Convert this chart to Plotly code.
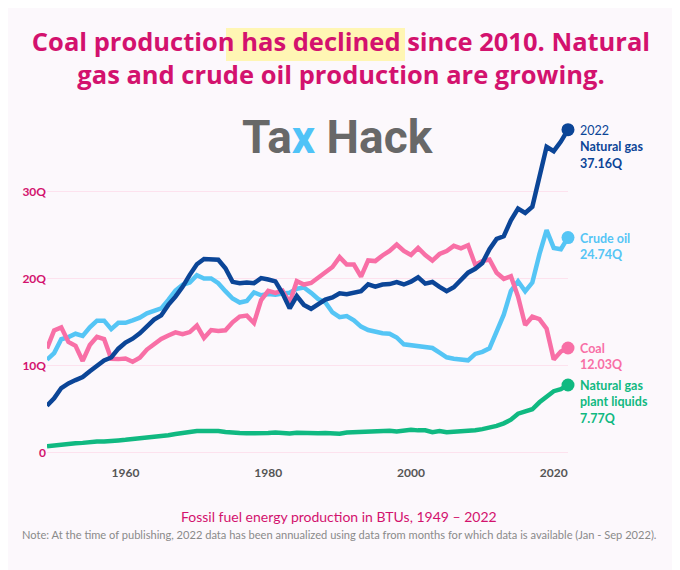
import plotly.graph_objects as go

years = list(range(1949, 2023))

coal = [11.97, 14.06, 14.41, 12.73, 12.28, 10.54, 12.37, 13.31, 13.06, 10.78,
        10.75, 10.82, 10.45, 10.90, 11.85, 12.52, 13.06, 13.47, 13.83, 13.61,
        13.86, 14.61, 13.19, 14.09, 13.99, 14.07, 14.99, 15.65, 15.76, 14.91,
        17.54, 18.60, 18.38, 18.64, 17.25, 19.72, 19.33, 19.51, 20.14, 20.74,
        21.35, 22.49, 21.63, 21.63, 20.25, 22.11, 22.03, 22.68, 23.21, 23.94,
        23.19, 22.74, 23.55, 22.73, 22.09, 22.85, 23.19, 23.79, 23.49, 23.85,
        21.62, 22.04, 22.22, 20.68, 19.99, 20.29, 17.95, 14.67, 15.63, 15.36,
        14.26, 10.70, 11.62, 12.03]

natural_gas = [5.38, 6.23, 7.42, 7.96, 8.34, 8.68, 9.35, 10.00, 10.60, 10.94,
               11.95, 12.66, 13.10, 13.72, 14.51, 15.30, 15.78, 16.99, 17.94, 19.07,
               20.45, 21.67, 22.28, 22.21, 22.19, 21.21, 19.64, 19.48, 19.57, 19.49,
               20.08, 19.91, 19.70, 18.32, 16.59, 18.01, 16.98, 16.54, 17.14, 17.60,
               17.85, 18.33, 18.23, 18.38, 18.58, 19.35, 19.08, 19.34, 19.39, 19.61,
               19.34, 19.66, 20.17, 19.44, 19.63, 19.07, 18.56, 19.02, 19.79, 20.70,
               21.14, 21.81, 23.41, 24.59, 24.89, 26.72, 28.07, 27.58, 28.29, 31.88,
               35.19, 34.68, 35.79, 37.16]

crude_oil = [10.68, 11.45, 13.04, 13.28, 13.67, 13.43, 14.41, 15.18, 15.18, 14.20,
             14.93, 14.93, 15.21, 15.52, 16.02, 16.27, 16.59, 17.56, 18.65, 19.31,
             19.56, 20.40, 20.03, 20.04, 19.49, 18.57, 17.73, 17.26, 17.45, 18.43,
             18.10, 18.25, 18.15, 18.31, 18.39, 18.85, 18.99, 18.38, 17.67, 17.28,
             16.12, 15.57, 15.70, 15.22, 14.49, 14.10, 13.89, 13.72, 13.66, 13.24,
             12.45, 12.36, 12.28, 12.16, 12.03, 11.50, 10.96, 10.80, 10.72, 10.61,
             11.35, 11.59, 11.99, 13.84, 15.86, 18.60, 19.71, 18.55, 19.56, 22.83,
             25.60, 23.55, 23.40, 24.74]

ngpl = [0.71, 0.82, 0.93, 1.00, 1.06, 1.11, 1.24, 1.28, 1.28, 1.28,
        1.39, 1.46, 1.54, 1.59, 1.71, 1.80, 1.88, 2.00, 2.14, 2.27,
        2.38, 2.47, 2.48, 2.51, 2.47, 2.37, 2.27, 2.25, 2.21, 2.19,
        2.20, 2.25, 2.31, 2.19, 2.18, 2.27, 2.24, 2.15, 2.22, 2.26,
        2.16, 2.17, 2.31, 2.36, 2.41, 2.39, 2.44, 2.53, 2.50, 2.42,
        2.53, 2.61, 2.55, 2.56, 2.35, 2.47, 2.33, 2.36, 2.41, 2.42,
        2.57, 2.69, 2.86, 3.06, 3.36, 3.78, 4.47, 4.67, 4.98, 5.78,
        6.49, 7.06, 7.29, 7.77]

series = [
    ("Crude oil", crude_oil, "#55c5f5", "<b>Crude oil<br>24.74Q</b>"),
    ("Coal", coal, "#f86fa6", "<b>Coal<br>12.03Q</b>"),
    ("Natural gas plant liquids", ngpl, "#10b981", "<b>Natural gas<br>plant liquids<br>7.77Q</b>"),
    ("Natural gas", natural_gas, "#0b4597", "2022<br><b>Natural gas<br>37.16Q</b>"),
]

bg = "#fcf8fc"
pink = "#d3126e"

# page has an 8px body margin, so the figure is drawn 8px smaller and offset
OFF = 8
W, H = 680 - OFF, 570 - OFF


# reference pixel -> paper helpers for the decorations outside the plot
def px_x(p):
    return (p - 47) / 521


def px_y(p):
    return (456 - p) / 338


fig = go.Figure()
annotations = []
for name, vals, color, label in series:
    fig.add_trace(go.Scatter(x=years, y=vals, mode="lines", name=name,
                             line=dict(color=color, width=4.5), hoverinfo="skip"))
    fig.add_trace(go.Scatter(x=[years[-1]], y=[vals[-1]], mode="markers",
                             marker=dict(color=color, size=13), cliponaxis=False,
                             hoverinfo="skip"))
    annotations.append(dict(x=years[-1], y=vals[-1], text=label, showarrow=False, align="left",
                            xanchor="left", yanchor="top", xshift=10, yshift=9,
                            font=dict(family="Lato", size=12.5, color=color)))

# logo
annotations.append(dict(xref="paper", yref="paper", x=px_x(338), y=px_y(137), xanchor="center",
                        yanchor="middle", showarrow=False,
                        text="<b>Ta<span style='color:#4fc3f7'>x</span> Hack</b>",
                        font=dict(family="Roboto", size=46, color="#686868")))
# footer
annotations.append(dict(xref="paper", yref="paper", x=px_x(339), y=px_y(516),
                        xanchor="center", yanchor="middle", showarrow=False,
                        text="Fossil fuel energy production in BTUs, 1949 \u2013 2022",
                        font=dict(family="Lato", size=14, color=pink)))
annotations.append(dict(xref="paper", yref="paper", x=px_x(339), y=px_y(534),
                        xanchor="center", yanchor="middle", showarrow=False,
                        text="Note: At the time of publishing, 2022 data has been annualized using data "
                             "from months for which data is available (Jan - Sep 2022).",
                        font=dict(family="Lato", size=11.1, color="#8a8a8a")))

# yellow highlight behind "has declined"
fig.add_shape(type="rect", xref="paper", yref="paper", x0=px_x(226), x1=px_x(405),
              y0=px_y(61), y1=px_y(28), fillcolor="#fff6b4", line_width=0, layer="below")

fig.update_layout(
    width=W, height=H,
    margin=dict(l=47 - OFF, r=112, t=118 - OFF, b=114),
    paper_bgcolor=bg, plot_bgcolor=bg,
    showlegend=False,
    annotations=annotations,
    title=dict(text="<b>Coal production has declined since 2010. Natural<br>gas and crude oil production are growing.</b>",
               x=(341 - OFF) / W, xref="container", xanchor="center",
               y=1 - (51 - OFF) / H, yref="container", yanchor="middle",
               font=dict(family="Open Sans", size=25.5, color=pink)),
    xaxis=dict(range=[1949, 2022], showgrid=False, zeroline=False, showline=False,
               tickvals=[1960, 1980, 2000, 2020], ticks="", ticklabelstandoff=8,
               tickfont=dict(family="Lato", size=12, color="#555555", weight="bold")),
    yaxis=dict(range=[-0.4, 38.5], tickvals=[0, 10, 20, 30], ticktext=["<b>0</b>", "<b>10Q</b>", "<b>20Q</b>", "<b>30Q</b>"],
               gridcolor="#fde2ee", gridwidth=1, zeroline=False, showline=False, ticks="",
               tickfont=dict(family="Lato", size=12, color=pink)),
)

fig.write_html("out.html")
